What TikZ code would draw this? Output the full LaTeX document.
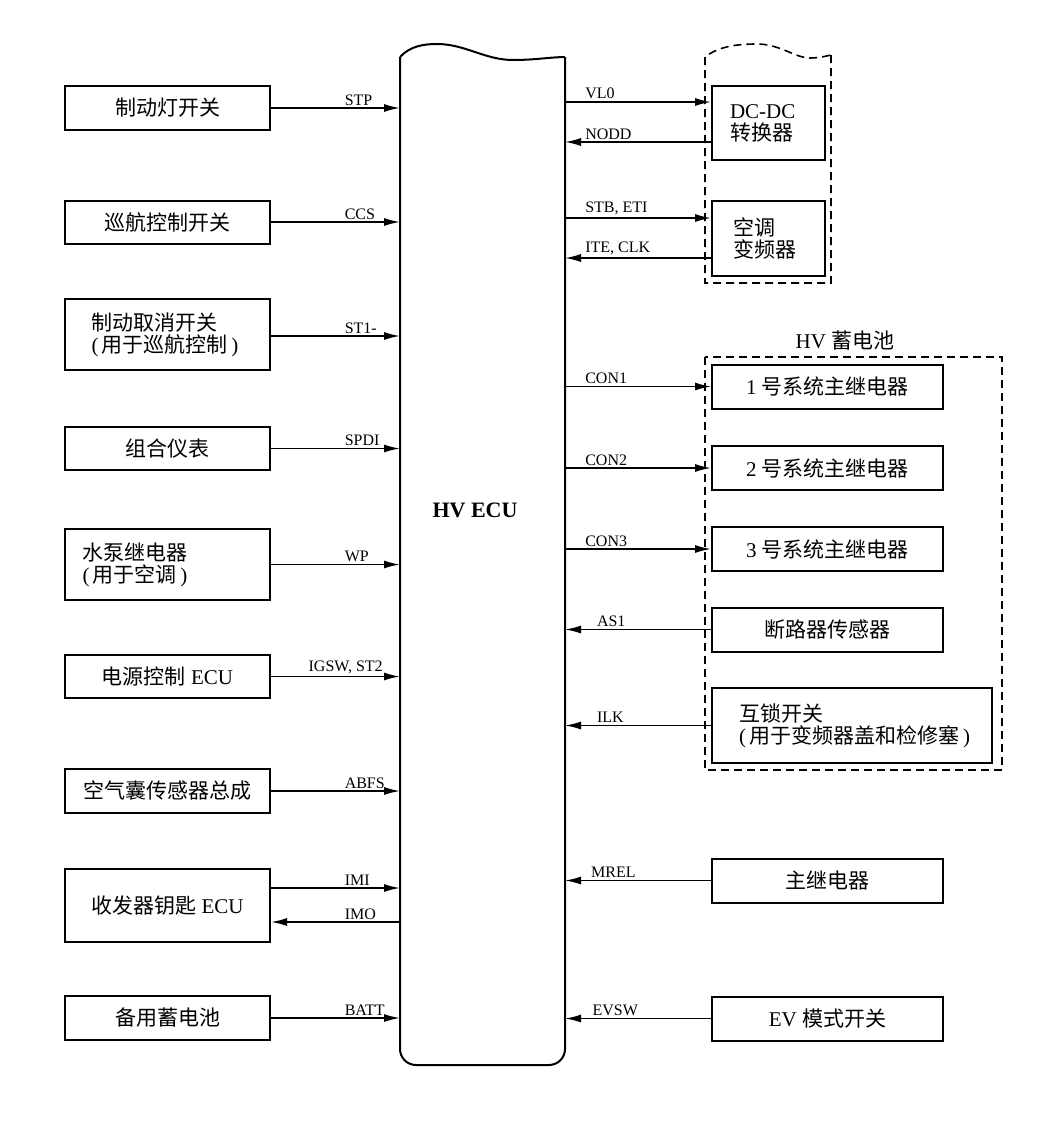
\documentclass[tikz,border=0pt]{standalone}
\usepackage{fontspec}
\setmainfont{Liberation Serif}
\newfontfamily\cjk{Noto Sans CJK SC}
\usetikzlibrary{arrows.meta}

\begin{document}
\begin{tikzpicture}[x = 1pt, y = -1pt, >= {Latex[length = 16pt, width = 8pt]},
    box/.style = {draw, line width = 2pt, minimum height = 44pt, inner sep = 0pt, font = \fontsize{21}{22}\selectfont},
    lbox/.style = {box, minimum width = 205pt},
    rbox/.style = {box, minimum width = 231pt},
    sig/.style = {line width = 1.6pt, ->},
    lbl/.style = {font = \fontsize{16}{18}\selectfont, inner sep = 2pt, anchor = south west},
    grp/.style = {line width = 1.6pt, dash pattern = on 8pt off 5pt}]
    \useasboundingbox (0, 0) rectangle (1044, 1125);

    \node[minimum width = 165pt, minimum height = 1008pt, inner sep = 0pt, outer sep = 0pt] (ecu) at (482.5, 561) {};
    \draw[line width = 2pt, rounded corners = 16pt] (ecu.north east) -- (ecu.south east) -- (ecu.south west) -- (ecu.north west);
    \draw[line width = 2pt] (ecu.north west) .. controls (410, 46) and (424, 44) .. (437, 44) .. controls (465, 44) and (485, 60) .. (513, 60) .. controls (535, 60) and (552, 57) .. (ecu.north east);
    \node[font = \fontsize{22}{24}\selectfont\bfseries] (ecutxt) at (475, 510) {HV ECU};

    \node[lbox] (stp) at (167.5, 108) {\cjk 制动灯开关};
    \node[lbox, minimum height = 43pt] (ccs) at (167.5, 222) {\cjk 巡航控制开关};
    \node[lbox, minimum height = 71pt, text width = 152pt, align = left] (st1) at (167.5, 334.5) {{\cjk 制动取消开关}\\(\,{\cjk 用于巡航控制}\,)};
    \node[lbox, minimum height = 43pt] (spdi) at (167.5, 448.5) {\cjk 组合仪表};
    \node[lbox, minimum height = 71pt, text width = 170pt, align = left] (wp) at (167.5, 564.5) {{\cjk 水泵继电器}\\(\,{\cjk 用于空调}\,)};
    \node[lbox, minimum height = 43pt] (igsw) at (167.5, 676.5) {{\cjk 电源控制} ECU};
    \node[lbox] (abfs) at (167.5, 791) {\cjk 空气囊传感器总成};
    \node[lbox, minimum height = 73pt] (imm) at (167.5, 905.5) {{\cjk 收发器钥匙} ECU};
    \node[lbox] (batt) at (167.5, 1018) {\cjk 备用蓄电池};

    \draw[sig] (stp.east) -- node[lbl, pos = .55] {STP} (stp.east -| ecu.west);
    \draw[sig] (ccs.east) -- node[lbl, pos = .55] {CCS} (ccs.east -| ecu.west);
    \draw[sig] ([yshift = -1.5pt]st1.east) -- node[lbl, pos = .55] {ST1-} ([yshift = -1.5pt]st1.east -| ecu.west);
    \draw[sig] (spdi.east) -- node[lbl, pos = .55] {SPDI} (spdi.east -| ecu.west);
    \draw[sig] (wp.east) -- node[lbl, pos = .55] {WP} (wp.east -| ecu.west);
    \draw[sig] (igsw.east) -- node[lbl, pos = .27] {IGSW, ST2} (igsw.east -| ecu.west);
    \draw[sig] (abfs.east) -- node[lbl, pos = .55] {ABFS} (abfs.east -| ecu.west);
    \coordinate (imi) at ([yshift = 17.5pt]imm.east);
    \coordinate (imo) at ([yshift = -16.5pt]imm.east);
    \draw[sig] (imi) -- node[lbl, pos = .55] {IMI} (imi -| ecu.west);
    \draw[sig] (imo -| ecu.west) -- node[lbl, pos = .45] {IMO} (imo);
    \draw[sig] (batt.east) -- node[lbl, pos = .55] {BATT} (batt.east -| ecu.west);

    \draw[grp] (831, 55) -- (831, 283) -- (705, 283) -- (705, 57) .. controls (718, 47) and (735, 44) .. (757, 44) .. controls (780, 44) and (795, 58) .. (810, 58) .. controls (820, 58) and (826, 56) .. (831, 55);
    \node[box, minimum width = 113pt, minimum height = 74pt, text width = 77pt, align = left] (dcdc) at (768.5, 123) {DC-DC\\{\cjk 转换器}};
    \node[box, minimum width = 113pt, minimum height = 75pt, text width = 71pt, align = left] (acinv) at (768.5, 238.5) {{\cjk 空调}\\{\cjk 变频器}};

    \node[font = \fontsize{21}{22}\selectfont] (hvbat) at (845, 341) {HV {\cjk 蓄电池}};
    \draw[grp] (705, 357) rectangle (1002, 770);
    \node[rbox] (con1) at (827.5, 386.5) {1 {\cjk 号系统主继电器}};
    \node[rbox] (con2) at (827.5, 468) {2 {\cjk 号系统主继电器}};
    \node[rbox] (con3) at (827.5, 549) {3 {\cjk 号系统主继电器}};
    \node[rbox] (as1) at (827.5, 629.5) {\cjk 断路器传感器};
    \node[box, minimum width = 280pt, minimum height = 75pt, text width = 226pt, align = left] (ilk) at (852, 725.5) {{\cjk 互锁开关}\\(\,{\cjk 用于变频器盖和检修塞}\,)};
    \node[rbox] (mrel) at (827.5, 880.5) {\cjk 主继电器};
    \node[rbox] (evsw) at (827.5, 1018.5) {EV {\cjk 模式开关}};

    \coordinate (vl0) at ([yshift = 21pt]dcdc.west);
    \coordinate (nodd) at ([yshift = -19pt]dcdc.west);
    \coordinate (stb) at ([yshift = 20.5pt]acinv.west);
    \coordinate (ite) at ([yshift = -19.5pt]acinv.west);
    \draw[sig] (ecu.east |- vl0) -- node[lbl, pos = .12] {VL0} (vl0);
    \draw[sig] (nodd) -- node[lbl, pos = .88] {NODD} (ecu.east |- nodd);
    \draw[sig] (ecu.east |- stb) -- node[lbl, pos = .12] {STB, ETI} (stb);
    \draw[sig] (ite) -- node[lbl, pos = .88] {ITE, CLK} (ecu.east |- ite);
    \draw[sig] (ecu.east |- con1.west) -- node[lbl, pos = .12] {CON1} (con1.west);
    \draw[sig] (ecu.east |- con2.west) -- node[lbl, pos = .12] {CON2} (con2.west);
    \draw[sig] (ecu.east |- con3.west) -- node[lbl, pos = .12] {CON3} (con3.west);
    \draw[sig] (as1.west) -- node[lbl, pos = .8] {AS1} (ecu.east |- as1.west);
    \draw[sig] (ilk.west) -- node[lbl, pos = .8] {ILK} (ecu.east |- ilk.west);
    \draw[sig] (mrel.west) -- node[lbl, pos = .84] {MREL} (ecu.east |- mrel.west);
    \draw[sig] (evsw.west) -- node[lbl, pos = .83] {EVSW} (ecu.east |- evsw.west);
\end{tikzpicture}
\end{document}
